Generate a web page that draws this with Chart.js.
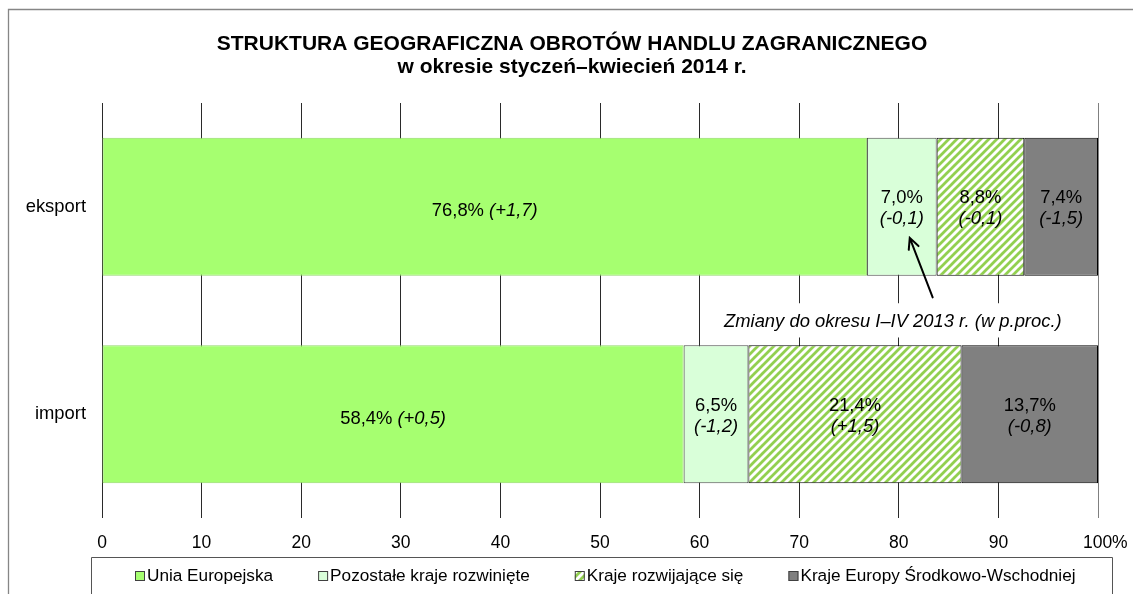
<!DOCTYPE html>
<html>
<head>
<meta charset="utf-8">
<script src="https://cdn.jsdelivr.net/npm/chart.js@4"></script>
<style>
html,body{margin:0;padding:0;background:#fff;overflow:hidden}
#wrap{width:1133px;height:594px;position:relative}
</style>
</head>
<body>
<div id="wrap"><canvas id="c" width="1133" height="594"></canvas></div>
<script>
// ---- data ----
const categories = ['eksport', 'import'];
const seriesNames = ['Unia Europejska', 'Pozostałe kraje rozwinięte', 'Kraje rozwijające się', 'Kraje Europy Środkowo-Wschodniej'];
const euValues = [76.8, 58.4];
const developedValues = [7.0, 6.5];
const developingValues = [8.8, 21.4];
const ceeValues = [7.4, 13.7];
const euChanges = [1.7, 0.5];
const developedChanges = [-0.1, -1.2];
const developingChanges = [-0.1, 1.5];
const ceeChanges = [-1.5, -0.8];
const xTickValues = [0, 10, 20, 30, 40, 50, 60, 70, 80, 90, 100];
const titleLines = ['STRUKTURA GEOGRAFICZNA OBROTÓW HANDLU ZAGRANICZNEGO', 'w okresie styczeń–kwiecień 2014 r.'];
const noteText = 'Zmiany do okresu I–IV 2013 r. (w p.proc.)';

const FONT = "'Liberation Sans', Arial, sans-serif";
Chart.defaults.font.family = FONT;
Chart.defaults.font.size = 17;
Chart.defaults.color = '#000';

function makeHatch() {
  const p = document.createElement('canvas');
  p.width = 8; p.height = 8;
  const g = p.getContext('2d');
  g.fillStyle = '#ffffff'; g.fillRect(0, 0, 8, 8);
  g.strokeStyle = '#92d050'; g.lineWidth = 2.8;
  g.beginPath();
  g.moveTo(-2, 2); g.lineTo(2, -2);
  g.moveTo(-2, 10); g.lineTo(10, -2);
  g.moveTo(6, 10); g.lineTo(10, 6);
  g.stroke();
  return g.createPattern(p, 'repeat');
}
const ctx = document.getElementById('c').getContext('2d');
const hatch = makeHatch();

const fmt = v => v.toFixed(1).replace('.', ',');
const fmtChange = v => '(' + (v >= 0 ? '+' : '-') + fmt(Math.abs(v)) + ')';

const datasets = [
  {label: seriesNames[0], data: euValues, changes: euChanges, backgroundColor: '#a6ff70', borderColor: '#93d66a', borderWidth: 1},
  {label: seriesNames[1], data: developedValues, changes: developedChanges, backgroundColor: '#d9ffd9', borderColor: '#4a4a4a', borderWidth: 1},
  {label: seriesNames[2], data: developingValues, changes: developingChanges, backgroundColor: hatch, borderColor: '#000000', borderWidth: 1},
  {label: seriesNames[3], data: ceeValues, changes: ceeChanges, backgroundColor: '#808080', borderColor: '#000000', borderWidth: 1}
].map(d => Object.assign(d, {borderSkipped: false, barPercentage: 0.665, categoryPercentage: 1}));

const framePlugin = {
  id: 'frame',
  afterLayout(chart) {
    const t = chart.titleBlock;
    if (t) { t.left = 46; t.width = t.right - t.left; }
  },
  beforeDraw(chart) {
    const c = chart.ctx;
    c.save();
    c.fillStyle = '#fff';
    c.fillRect(0, 0, chart.width, chart.height);
    c.strokeStyle = '#868686';
    c.lineWidth = 1.3;
    c.beginPath();
    c.moveTo(8.5, chart.height + 5);
    c.lineTo(8.5, 9.5);
    c.lineTo(chart.width + 5, 9.5);
    c.stroke();
    c.restore();
  }
};

const labelsPlugin = {
  id: 'segLabels',
  afterDatasetsDraw(chart) {
    const c = chart.ctx;
    const xs = chart.scales.x, ys = chart.scales.y;
    c.save();
    c.fillStyle = '#000';
    c.textBaseline = 'middle';
    const normal = '18.4px ' + FONT, italic = 'italic 18.4px ' + FONT;
    chart.data.datasets.forEach((ds, di) => {
      const meta = chart.getDatasetMeta(di);
      meta.data.forEach((bar, j) => {
        const v = ds.data[j];
        const cx = (bar.x + bar.base) / 2;
        const cy = bar.y;
        const t1 = fmt(v) + '%';
        const t2 = fmtChange(ds.changes[j]);
        if (v > 30) {
          c.font = normal;
          const w1 = c.measureText(t1 + ' ').width;
          c.font = italic;
          const w2 = c.measureText(t2).width;
          const x0 = cx - (w1 + w2) / 2;
          c.textAlign = 'left';
          c.font = normal;
          c.fillText(t1 + ' ', x0, cy + 4.5);
          c.font = italic;
          c.fillText(t2, x0 + w1, cy + 4.5);
        } else {
          c.textAlign = 'center';
          c.font = normal;
          c.fillText(t1, cx, cy - 8.5);
          c.font = italic;
          c.fillText(t2, cx, cy + 12.5);
        }
      });
    });

    // note box + text
    const bx0 = xs.getPixelForValue(60.6), bx1 = xs.getPixelForValue(100) - 1;
    const by0 = ys.getPixelForValue(0.465), by1 = ys.getPixelForValue(0.63);
    c.fillStyle = '#fff';
    c.fillRect(bx0, by0, bx1 - bx0, by1 - by0);
    c.fillStyle = '#000';
    c.font = italic;
    c.textAlign = 'center';
    c.fillText(noteText, xs.getPixelForValue(79.4), ys.getPixelForValue(0.553));

    // arrow
    const tx = xs.getPixelForValue(81.1), ty = ys.getPixelForValue(0.15);
    const sx = xs.getPixelForValue(83.4), sy = ys.getPixelForValue(0.437);
    const ang = Math.atan2(ty - sy, tx - sx);
    c.strokeStyle = '#000';
    c.lineWidth = 2;
    c.lineCap = 'round';
    c.beginPath();
    c.moveTo(sx, sy); c.lineTo(tx, ty);
    const L = 12, a = 0.45;
    c.moveTo(tx - L * Math.cos(ang - a), ty - L * Math.sin(ang - a));
    c.lineTo(tx, ty);
    c.lineTo(tx - L * Math.cos(ang + a), ty - L * Math.sin(ang + a));
    c.stroke();
    c.restore();
  }
};

const legendPlugin = {
  id: 'boxLegend',
  afterDraw(chart) {
    const c = chart.ctx;
    const area = chart.chartArea;
    const xs = chart.scales.x;
    const left = area.left - 11, right = area.right + 14, top = xs.bottom;
    c.save();
    c.strokeStyle = '#555';
    c.lineWidth = 1;
    c.beginPath();
    c.moveTo(left + 0.5, chart.height + 5);
    c.lineTo(left + 0.5, top + 0.5);
    c.lineTo(right + 0.5, top + 0.5);
    c.lineTo(right + 0.5, chart.height + 5);
    c.stroke();
    c.font = '17.2px ' + FONT;
    c.textBaseline = 'middle';
    c.textAlign = 'left';
    let x = left + 44;
    const ty = top + 19;
    chart.data.datasets.forEach(ds => {
      c.fillStyle = ds.backgroundColor;
      c.fillRect(x, ty - 5, 10, 10);
      c.strokeStyle = '#404040';
      c.strokeRect(x + 0.5, ty - 4.5, 9, 9);
      c.fillStyle = '#000';
      c.fillText(ds.label, x + 12, ty);
      x += 12 + c.measureText(ds.label).width + 45;
    });
    c.restore();
  }
};

new Chart(ctx, {
  type: 'bar',
  data: {labels: categories, datasets},
  plugins: [framePlugin, labelsPlugin, legendPlugin],
  options: {
    indexAxis: 'y',
    responsive: false,
    animation: false,
    devicePixelRatio: 1,
    layout: {padding: {left: 0, right: 35, top: 0, bottom: 37}},
    plugins: {
      legend: {display: false},
      tooltip: {enabled: false},
      title: {
        display: true,
        text: titleLines,
        font: {size: 21, weight: 'bold', lineHeight: 1.1},
        color: '#000',
        padding: {top: 32.5, bottom: 24.3}
      }
    },
    scales: {
      x: {
        stacked: true,
        min: 0, max: 100,
        afterBuildTicks: s => { s.ticks = xTickValues.map(v => ({value: v})); },
        ticks: {
          padding: 15,
          color: '#000',
          font: {size: 17.5},
          maxRotation: 0,
          callback: v => v === 100 ? '   100%' : String(v)
        },
        grid: {
          drawTicks: false,
          color: c => (c.tick && c.tick.value === 100) ? '#808080' : '#2a2a2a',
          lineWidth: 1
        },
        border: {display: false},
        afterFit: s => { s.height = 39; s.paddingLeft = 0; s.paddingRight = 0; }
      },
      y: {
        stacked: true,
        ticks: {padding: 16, color: '#000', font: {size: 18.4}},
        grid: {display: false, drawTicks: false},
        border: {display: false},
        afterFit: s => { s.width = 102; }
      }
    }
  }
});
</script>
</body>
</html>
